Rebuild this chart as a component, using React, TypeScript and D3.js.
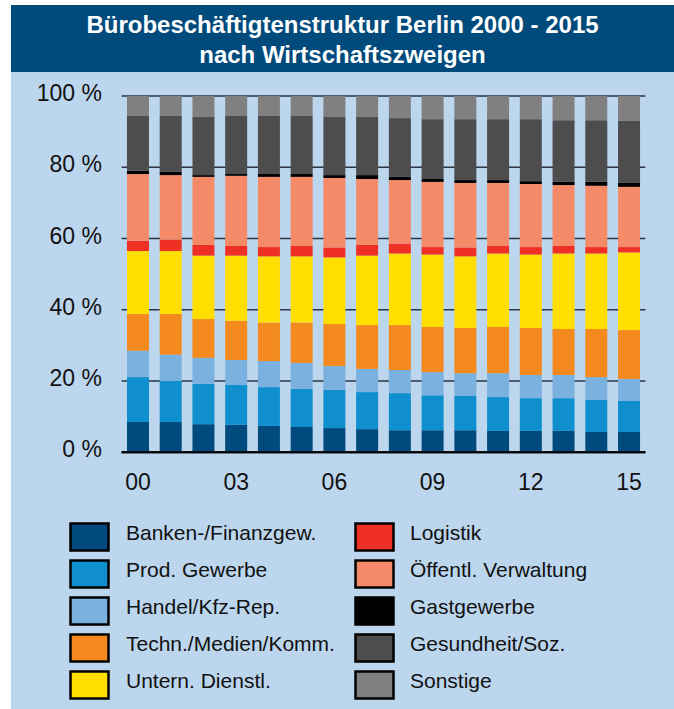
import React from "react";
import * as d3 from "d3";

const years = ["00","01","02","03","04","05","06","07","08","09","10","11","12","13","14","15"];
const xTickLabels = ["00", "03", "06", "09", "12", "15"];
const yTicks = [0, 20, 40, 60, 80, 100];

const categories = [
  "Banken-/Finanzgew.",
  "Prod. Gewerbe",
  "Handel/Kfz-Rep.",
  "Techn./Medien/Komm.",
  "Untern. Dienstl.",
  "Logistik",
  "Öffentl. Verwaltung",
  "Gastgewerbe",
  "Gesundheit/Soz.",
  "Sonstige",
];

const colors = ["#004A7D", "#0F8FCD", "#7BB1DF", "#F4891E", "#FFDE00", "#EE3124", "#F58A69", "#000000", "#4D4D4D", "#808080"];

const banken = [8.5, 8.5, 7.9, 7.7, 7.4, 7.1, 6.8, 6.5, 6.2, 6.2, 6.2, 6.0, 6.0, 6.0, 5.7, 5.7];
const prod = [12.6, 11.5, 11.3, 11.2, 10.9, 10.7, 10.7, 10.4, 10.4, 9.8, 9.6, 9.5, 9.2, 9.2, 9.0, 8.7];
const handel = [7.4, 7.4, 7.3, 7.0, 7.3, 7.3, 6.7, 6.5, 6.5, 6.5, 6.4, 6.7, 6.5, 6.5, 6.4, 6.2];
const techn = [10.3, 11.4, 10.9, 11.0, 10.8, 11.3, 11.8, 12.3, 12.6, 12.7, 12.7, 13.0, 13.2, 12.9, 13.5, 13.7];
const untern = [17.7, 17.7, 17.8, 18.3, 18.6, 18.6, 18.7, 19.5, 20.1, 20.3, 20.1, 20.6, 20.6, 21.2, 21.2, 21.8];
const logistik = [2.9, 3.2, 3.0, 2.7, 2.6, 2.9, 2.8, 3.0, 2.8, 2.1, 2.5, 2.1, 2.1, 2.1, 1.8, 1.5];
const oeffentl = [18.7, 18.1, 19.1, 19.7, 19.7, 19.4, 19.5, 18.5, 17.8, 18.3, 18.1, 17.7, 17.7, 17.1, 17.2, 16.9];
const gast = [0.9, 0.9, 0.5, 0.5, 0.8, 0.8, 0.8, 1.1, 0.9, 0.8, 0.8, 0.8, 0.8, 0.9, 1.1, 1.1];
const gesund = [15.4, 15.7, 16.3, 16.3, 16.3, 16.3, 16.3, 16.3, 16.5, 16.8, 17.1, 17.1, 17.4, 17.3, 17.3, 17.4];
const sonstige = [5.6, 5.6, 5.9, 5.6, 5.6, 5.6, 5.9, 5.9, 6.2, 6.5, 6.5, 6.5, 6.5, 6.8, 6.8, 7.0];

const seriesValues = [banken, prod, handel, techn, untern, logistik, oeffentl, gast, gesund, sonstige];

const W = 674;
const H = 709;
const FONT = "'Liberation Sans', Arial, Helvetica, sans-serif";

export default function App() {
  const rows = years.map((y, i) => {
    const r: Record<string, any> = { year: y };
    categories.forEach((c, k) => (r[c] = seriesValues[k][i]));
    return r;
  });
  const stacked = d3.stack<any>().keys(categories)(rows);

  const x = d3
    .scaleBand<string>()
    .domain(years)
    .range([121.6, 645.4])
    .paddingInner(0.328)
    .paddingOuter(0.164);
  const y = d3.scaleLinear().domain([0, 100]).range([452.3, 96]);

  const legendLeft = categories.slice(0, 5);
  const legendRight = categories.slice(5);

  return (
    <svg
      width={W}
      height={H}
      style={{ position: "absolute", left: 0, top: 0, fontFamily: FONT }}
    >
      <rect x={0} y={0} width={W} height={H} fill="#ffffff" />
      <rect x={11} y={5} width={W - 11} height={H - 5} fill="#BCD6EE" />
      <rect x={11} y={5} width={W - 11} height={67} fill="#004A7C" />
      <text x={342.5} y={33} textAnchor="middle" fill="#fff" fontSize={24} fontWeight="bold">
        Bürobeschäftigtenstruktur Berlin 2000 - 2015
      </text>
      <text x={342.5} y={63} textAnchor="middle" fill="#fff" fontSize={24} fontWeight="bold">
        nach Wirtschaftszweigen
      </text>

      {/* gridlines */}
      {yTicks.map((t) => (
        <line
          key={t}
          x1={121.6}
          x2={645.4}
          y1={y(t)}
          y2={y(t)}
          stroke={t === 0 ? "#000" : "#2b3440"}
          strokeWidth={t === 0 ? 2 : 1.5}
        />
      ))}
      {yTicks.map((t) => (
        <text key={"l" + t} x={102} y={y(t) + 5} textAnchor="end" fontSize={23} fill="#111">
          {t} %
        </text>
      ))}

      {/* bars */}
      {stacked.map((s, k) => (
        <g key={s.key} fill={colors[k]}>
          {s.map((d: any, i: number) => (
            <rect
              key={i}
              x={x(years[i])}
              width={x.bandwidth()}
              y={y(d[1])}
              height={Math.max(0, y(d[0]) - y(d[1]))}
            />
          ))}
        </g>
      ))}
      <line x1={121.6} x2={645.4} y1={y(0)} y2={y(0)} stroke="#000" strokeWidth={2} />

      {xTickLabels.map((l) => (
        <text
          key={l}
          x={(x(l) as number) + x.bandwidth() / 2}
          y={490}
          textAnchor="middle"
          fontSize={23}
          fill="#111"
        >
          {l}
        </text>
      ))}

      {/* legend */}
      {[legendLeft, legendRight].map((col, ci) =>
        col.map((c, ri) => {
          const k = ci * 5 + ri;
          const sx = ci === 0 ? 70.5 : 355.5;
          const tx = ci === 0 ? 126 : 410;
          const top = 523.5 + ri * 37;
          return (
            <g key={c}>
              <rect x={sx} y={top} width={38} height={27} fill={colors[k]} stroke="#000" strokeWidth={2.5} />
              <text x={tx} y={top + 16.5} fontSize={21} fill="#111">
                {c}
              </text>
            </g>
          );
        })
      )}
    </svg>
  );
}
